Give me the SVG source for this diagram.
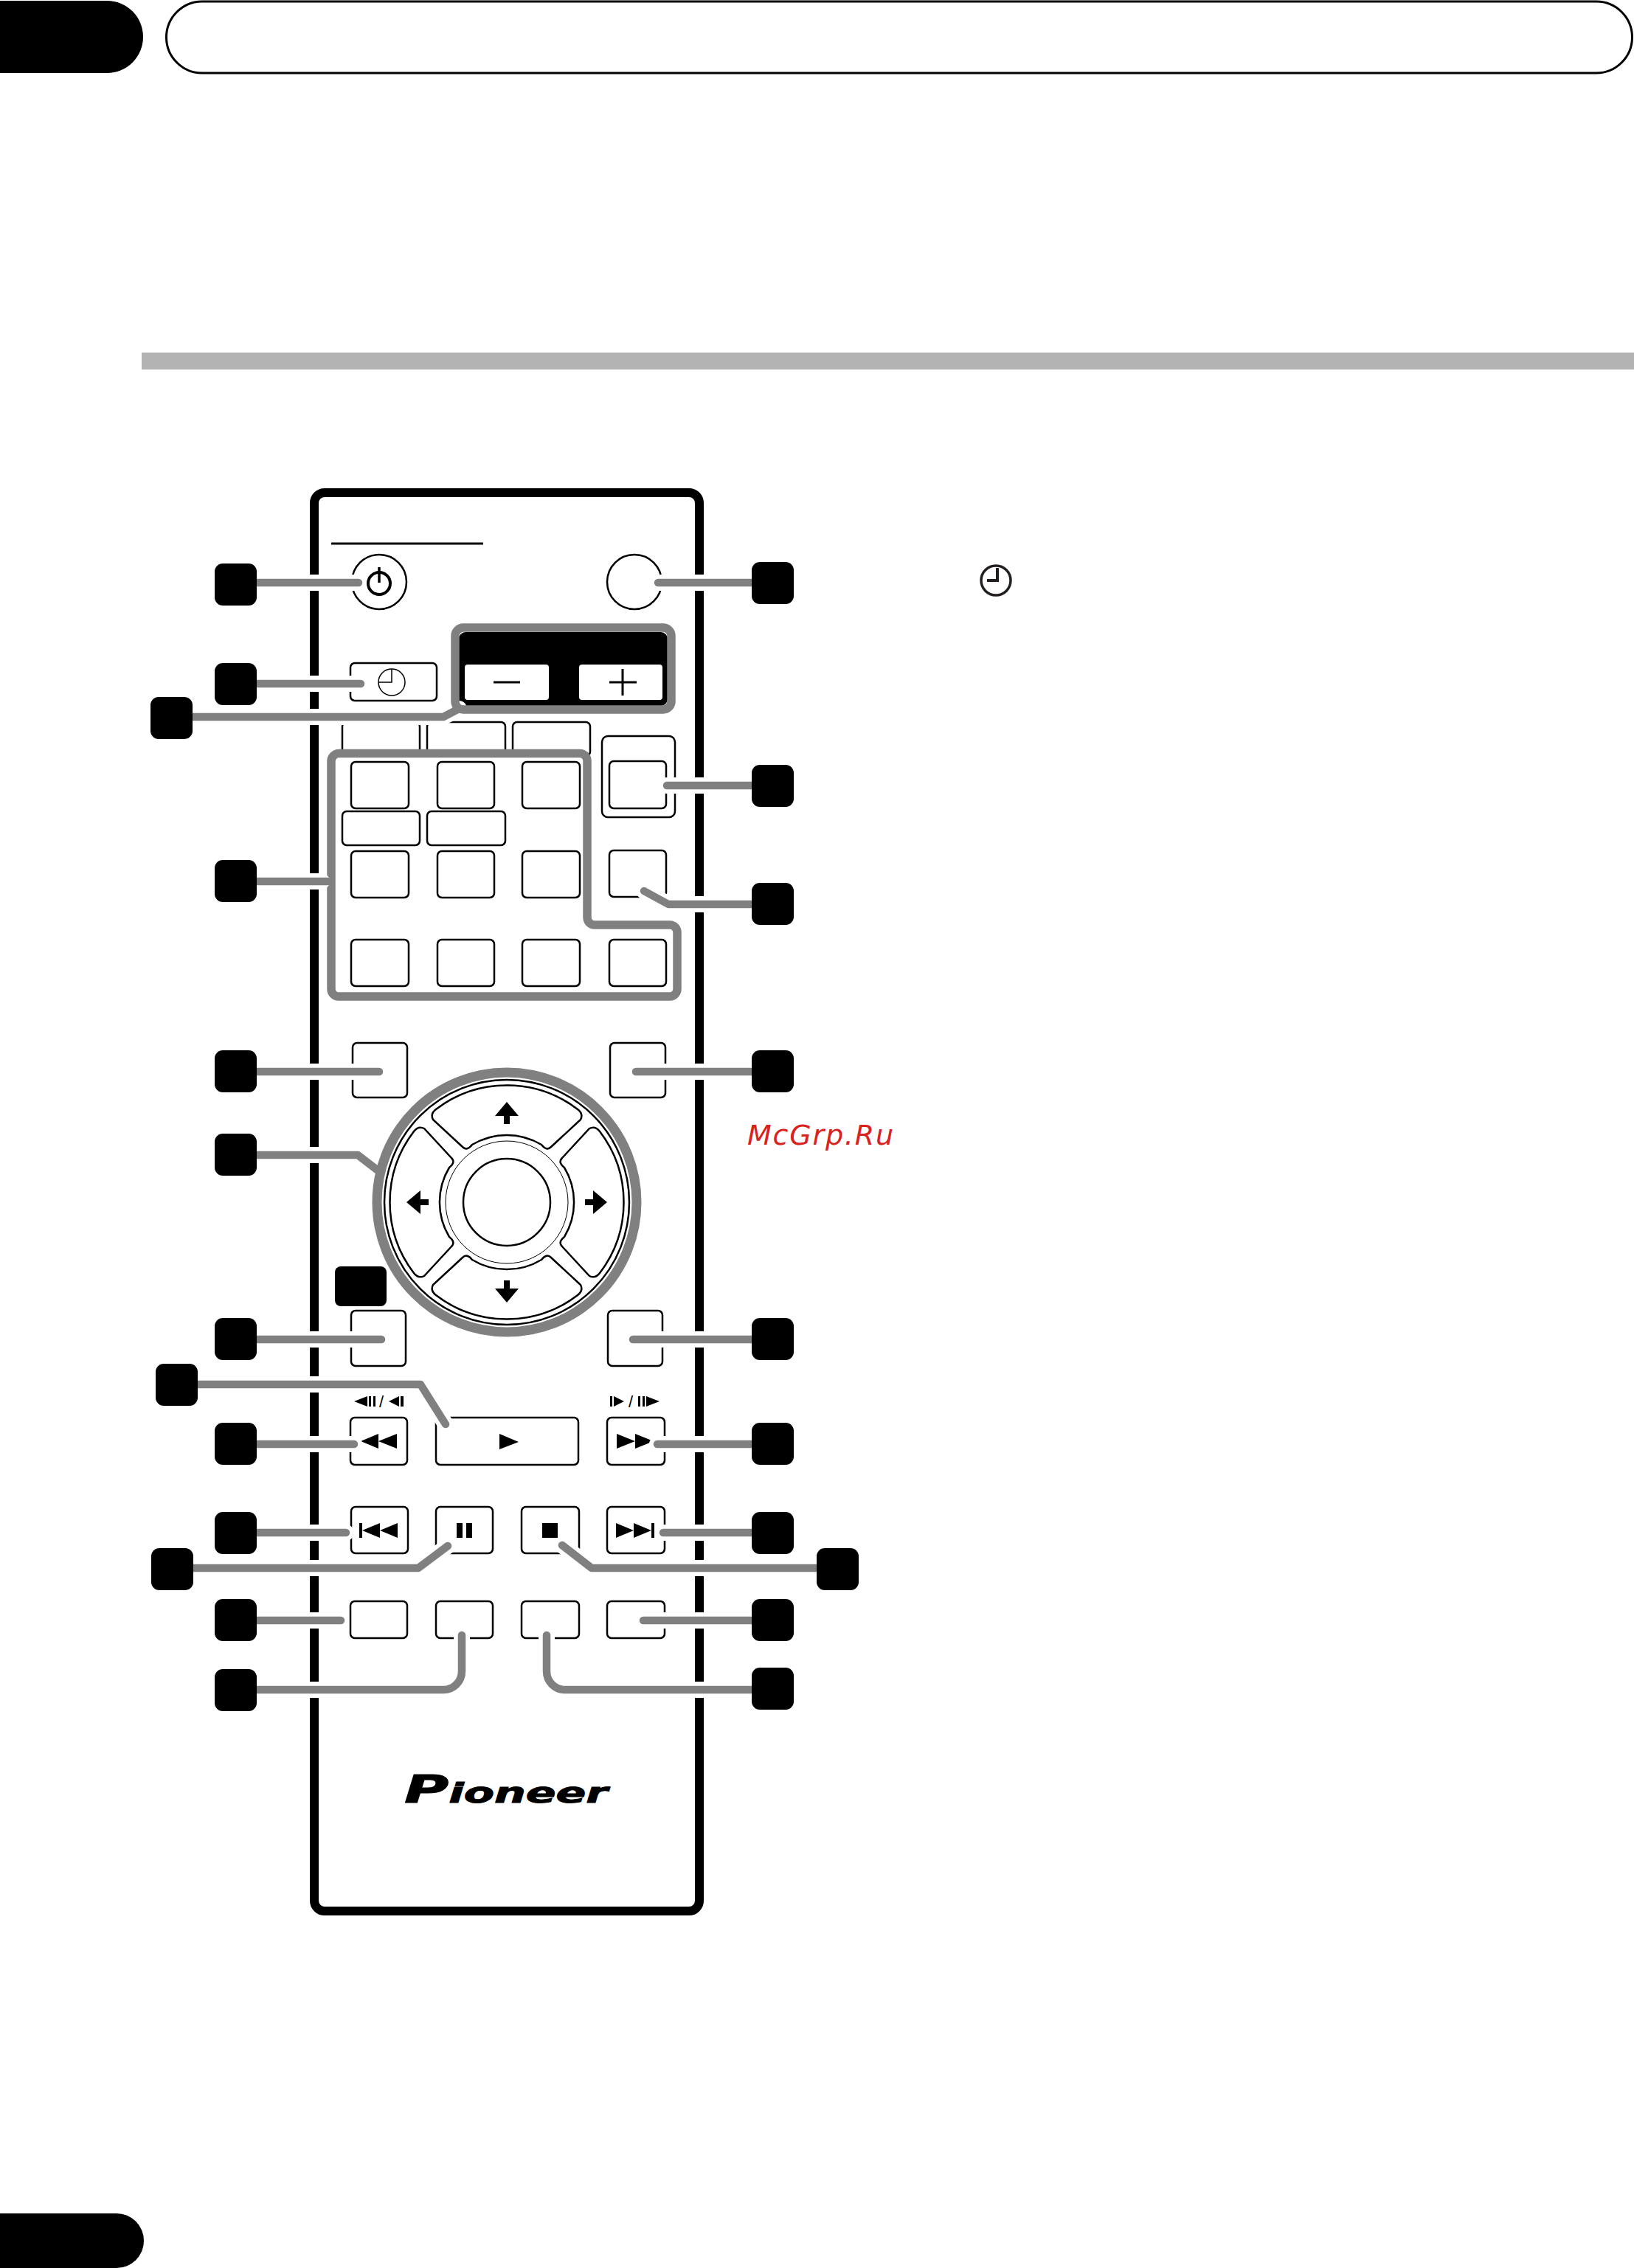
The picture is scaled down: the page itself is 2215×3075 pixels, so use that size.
<svg xmlns="http://www.w3.org/2000/svg" width="2215" height="3075" viewBox="0 0 2215 3075">
<style>
.b{fill:#fff;stroke:#000;stroke-width:2.5}
.k{fill:#000}
.h{fill:none;stroke:#fff;stroke-width:22;stroke-linecap:round;stroke-linejoin:round}
.g{fill:none;stroke:#808080;stroke-width:10.5;stroke-linecap:round;stroke-linejoin:round}
.gf{fill:#fff;stroke:#808080;stroke-width:11.5;stroke-linejoin:round}
.l{fill:none;stroke:#000;stroke-linecap:butt}
</style>
<defs>
<rect id="badge" x="0" y="0" width="57" height="57" rx="11" class="k"/>
<path id="seg" class="b" d="M-96 -126A158 158 0 0 1 96 -126Q104 -120 100 -112L60 -75Q54 -69 47 -78A91 91 0 0 0 -47 -78Q-54 -69 -60 -75L-100 -112Q-104 -120 -96 -126Z"/>
<path id="arr" class="k" d="M0 -136L16 -117H4V-106H-4V-117H-16Z"/>
</defs>
<rect width="2215" height="3075" fill="#fff"/>
<g id="page">
<path class="k" d="M0 1H145A49 49 0 0 1 145 99H0Z"/>
<rect x="225.500" y="2" width="1987" height="97" rx="48.500" fill="#fff" stroke="#000" stroke-width="3"/>
<rect x="192" y="478" width="2023" height="23" fill="#b3b3b3"/>
<path class="k" d="M0 3001H158A37 37 0 0 1 158 3075H0Z"/>
<g id="clock-icon" fill="none" stroke="#231f20"><circle cx="1350" cy="787" r="20" stroke-width="3.500"/><path stroke-width="4" d="M1352 770V787H1338"/></g>
<text x="1013" y="1552" font-family="DejaVu Sans, sans-serif" font-style="italic" font-size="38" textLength="198" fill="#d9211e">McGrp.Ru</text>
</g>
<g id="remote">
<rect x="426" y="668" width="522" height="1923" rx="14" fill="#fff" stroke="#000" stroke-width="12"/>
<path d="M449 737H655" stroke="#000" stroke-width="3"/>
<text x="548" y="2444" font-family="DejaVu Sans, sans-serif" font-weight="700" font-style="italic" font-size="38" textLength="276" lengthAdjust="spacingAndGlyphs" stroke="#000" stroke-width="1"><tspan font-size="52">P</tspan>ioneer</text>
</g>
<g id="top-row">
<rect class="b" x="464" y="979" width="105" height="46" rx="6"/>
<rect class="b" x="579" y="979" width="106" height="46" rx="6"/>
<rect class="b" x="695" y="979" width="105" height="46" rx="6"/>
</g>
<g id="group-outline"><path class="gf" d="M449 1032A10.500 10.500 0 0 1 459.500 1021.500H786A10 10 0 0 1 796 1031.500V1244A10 10 0 0 0 806 1254H908A10 10 0 0 1 918 1264V1341A10 10 0 0 1 908 1351H459A10 10 0 0 1 449 1341Z"/></g>
<g id="buttons">
<g id="btn-power"><circle class="b" cx="514" cy="789" r="37"/><circle cx="514" cy="791" r="15" fill="none" stroke="#000" stroke-width="4"/><path class="l" stroke-width="3.500" d="M514 769V790"/></g>
<g id="btn-open"><circle class="b" cx="860" cy="789" r="37"/></g>
<g id="btn-timer"><rect class="b" x="475" y="899" width="117" height="51" rx="6"/><circle cx="531" cy="925" r="18" fill="none" stroke="#000" stroke-width="1.500"/><path class="l" stroke-width="1.500" d="M531 907V925H513"/></g>
<g id="btn-vol"><rect class="k" x="622" y="857" width="283" height="100" rx="9"/><rect x="630" y="901" width="114" height="48" rx="4" fill="#fff"/><rect x="785" y="901" width="113" height="48" rx="4" fill="#fff"/><path class="l" stroke-width="3" d="M669 925H705M826 925H863M844 907V943"/></g>
<rect class="b" x="476" y="1033" width="78" height="63" rx="6"/>
<rect class="b" x="593" y="1033" width="77" height="63" rx="6"/>
<rect class="b" x="708" y="1033" width="78" height="63" rx="6"/>
<rect class="b" x="464" y="1100" width="105" height="46" rx="6"/>
<rect class="b" x="579" y="1100" width="106" height="46" rx="6"/>
<rect class="b" x="476" y="1154" width="78" height="63" rx="6"/>
<rect class="b" x="593" y="1154" width="77" height="63" rx="6"/>
<rect class="b" x="708" y="1154" width="78" height="63" rx="6"/>
<rect class="b" x="476" y="1274" width="78" height="63" rx="6"/>
<rect class="b" x="593" y="1274" width="77" height="63" rx="6"/>
<rect class="b" x="708" y="1274" width="78" height="63" rx="6"/>
<rect class="b" x="826" y="1274" width="77" height="63" rx="6"/>
<rect class="b" x="816" y="998" width="99" height="110" rx="8"/>
<rect class="b" x="826" y="1032" width="77" height="64" rx="6"/>
<rect class="b" x="826" y="1153" width="77" height="63" rx="6"/>
<rect class="b" x="478" y="1414" width="74" height="74" rx="6"/>
<rect class="b" x="827" y="1414" width="75" height="74" rx="6"/>
<rect class="b" x="476" y="1777" width="74" height="75" rx="6"/>
<rect class="b" x="824" y="1777" width="74" height="75" rx="6"/>
<g id="btn-rew"><rect class="b" x="475" y="1922" width="77" height="64" rx="6"/><path class="k" d="M489 1954L513 1944V1964ZM513 1954L538 1944V1964Z"/></g>
<g id="btn-play"><rect class="b" x="591" y="1922" width="193" height="64" rx="6"/><path class="k" d="M677 1944L703 1955L677 1965Z"/></g>
<g id="btn-ff"><rect class="b" x="823" y="1922" width="78" height="64" rx="6"/><path class="k" d="M836 1944L861 1954L836 1964ZM861 1944L886 1954L861 1964Z"/></g>
<g id="btn-prev"><rect class="b" x="476" y="2043" width="77" height="63" rx="6"/><path class="k" d="M487 2065H491V2085H487ZM491 2075L515 2065V2085ZM515 2075L539 2065V2085Z"/></g>
<g id="btn-pause"><rect class="b" x="591" y="2043" width="77" height="63" rx="6"/><path class="k" d="M619 2065H627V2085H619ZM632 2065H640V2085H632Z"/></g>
<g id="btn-stop"><rect class="b" x="707" y="2043" width="78" height="63" rx="6"/><rect class="k" x="735" y="2065" width="21" height="20"/></g>
<g id="btn-next"><rect class="b" x="823" y="2043" width="78" height="63" rx="6"/><path class="k" d="M835 2065L859 2075L835 2085ZM859 2065L883 2075L859 2085ZM883 2065H887V2085H883Z"/></g>
<rect class="b" x="475" y="2171" width="77" height="50" rx="6"/>
<rect class="b" x="591" y="2171" width="77" height="50" rx="6"/>
<rect class="b" x="707" y="2171" width="78" height="50" rx="6"/>
<rect class="b" x="823" y="2171" width="78" height="50" rx="6"/>
<g id="slow-left"><path class="k" d="M480 1900L498 1893V1907ZM500 1893H503V1907H500ZM506 1893H509V1907H506ZM527 1900L541 1893V1907ZM543 1893H547V1907H543Z"/><text x="517" y="1908" text-anchor="middle" font-family="Liberation Sans, sans-serif" font-size="22">/</text></g>
<g id="slow-right"><path class="k" d="M827 1893H830V1907H827ZM832 1893L846 1900L832 1907ZM865 1893H868V1907H865ZM871 1893H874V1907H871ZM876 1893L894 1900L876 1907Z"/><text x="855" y="1908" text-anchor="middle" font-family="Liberation Sans, sans-serif" font-size="22">/</text></g>
</g>
<g id="dpad">
<circle cx="687" cy="1630" r="166" fill="#fff" stroke="#000" stroke-width="2.500"/>
<g transform="translate(687 1630)">
<use href="#seg"/><use href="#seg" transform="rotate(90)"/><use href="#seg" transform="rotate(180)"/><use href="#seg" transform="rotate(270)"/>
<use href="#arr"/><use href="#arr" transform="rotate(90)"/><use href="#arr" transform="rotate(180)"/><use href="#arr" transform="rotate(270)"/>
<circle r="83" fill="#fff" stroke="#000" stroke-width="1"/>
<circle r="59" fill="#fff" stroke="#000" stroke-width="2.500"/>
</g>
</g>
<g id="connector-halos" class="h">
<path d="M347 790H486"/><path d="M892 790H1018"/><path d="M347 927H489"/><path d="M262 972H601L622 961"/>
<path d="M904 1065H1018"/><path d="M873 1208L906 1226H1018"/><path d="M347 1195H436"/>
<path d="M347 1453H514"/><path d="M862 1453H1018"/><path d="M347 1566H485L511 1586"/>
<path d="M347 1816H517"/><path d="M858 1816H1018"/><path d="M267 1877H570L604 1931"/>
<path d="M348 1958H480"/><path d="M891 1958H1018"/><path d="M348 2078H469"/><path d="M899 2078H1018"/>
<path d="M262 2126H567L607 2096"/><path d="M1107 2126H802L762 2095"/>
<path d="M348 2197H462"/><path d="M872 2197H1018"/>
<path d="M348 2291H601A25 25 0 0 0 626 2266V2217"/><path d="M1018 2291H766A25 25 0 0 1 741 2266V2217"/>
</g>
<g id="connector-rings">
<rect class="gf" x="617" y="851" width="293" height="111" rx="11" fill-opacity="0"/>
<circle cx="687" cy="1630" r="176" fill="none" stroke="#808080" stroke-width="13"/>
</g>
<g id="connectors" class="g">
<path d="M347 790H486"/><path d="M892 790H1018"/><path d="M347 927H489"/><path d="M262 972H601L622 961"/>
<path d="M904 1065H1018"/><path d="M873 1208L906 1226H1018"/><path d="M347 1195H444"/>
<path d="M347 1453H514"/><path d="M862 1453H1018"/><path d="M347 1566H485L511 1586"/>
<path d="M347 1816H517"/><path d="M858 1816H1018"/><path d="M267 1877H570L604 1931"/>
<path d="M348 1958H480"/><path d="M891 1958H1018"/><path d="M348 2078H469"/><path d="M899 2078H1018"/>
<path d="M262 2126H567L607 2096"/><path d="M1107 2126H802L762 2095"/>
<path d="M348 2197H462"/><path d="M872 2197H1018"/>
<path d="M348 2291H601A25 25 0 0 0 626 2266V2217"/><path d="M1018 2291H766A25 25 0 0 1 741 2266V2217"/>
</g>
<g id="badges">
<use id="n1" href="#badge" x="291" y="764"/>
<use id="n2" href="#badge" x="1019" y="762"/>
<use id="n3" href="#badge" x="291" y="899"/>
<use id="n4" href="#badge" x="204" y="945"/>
<use id="n5" href="#badge" x="1019" y="1037"/>
<use id="n6" href="#badge" x="291" y="1166"/>
<use id="n7" href="#badge" x="1019" y="1197"/>
<use id="n8" href="#badge" x="291" y="1424"/>
<use id="n9" href="#badge" x="1019" y="1424"/>
<use id="n10" href="#badge" x="291" y="1537"/>
<rect id="n11" class="k" x="454" y="1717" width="70" height="54" rx="8"/>
<use id="n12" href="#badge" x="291" y="1787"/>
<use id="n13" href="#badge" x="1019" y="1787"/>
<use id="n14" href="#badge" x="211" y="1849"/>
<use id="n15" href="#badge" x="291" y="1929"/>
<use id="n16" href="#badge" x="1019" y="1929"/>
<use id="n17" href="#badge" x="291" y="2050"/>
<use id="n18" href="#badge" x="1019" y="2050"/>
<use id="n19" href="#badge" x="205" y="2099"/>
<use id="n20" href="#badge" x="1107" y="2099"/>
<use id="n21" href="#badge" x="291" y="2168"/>
<use id="n22" href="#badge" x="1019" y="2168"/>
<use id="n23" href="#badge" x="291" y="2263"/>
<use id="n24" href="#badge" x="1019" y="2261"/>
</g>
</svg>
